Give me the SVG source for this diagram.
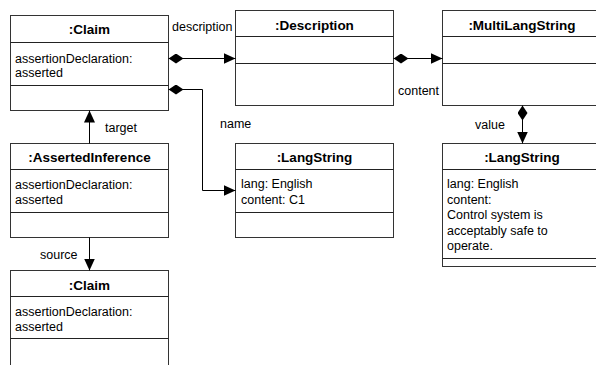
<svg xmlns="http://www.w3.org/2000/svg" width="596" height="365" viewBox="0 0 596 365">
<defs>
<style>
.box{fill:#fff;stroke:#333;stroke-width:1}
.sep{stroke:#222;stroke-width:1}
.title{font-family:"Liberation Sans",Arial,sans-serif;font-size:13.5px;font-weight:bold;fill:#000;text-anchor:middle}
.attr{font-family:"Liberation Sans",Arial,sans-serif;font-size:12.5px;fill:#000}
.lbl{font-family:"Liberation Sans",Arial,sans-serif;font-size:12.5px;fill:#000}
.conn{fill:none;stroke:#000;stroke-width:1}
</style>
<marker id="arrow" markerUnits="userSpaceOnUse" markerWidth="12" markerHeight="11" refX="12" refY="5.5" orient="auto">
<path d="M0,0 L12,5.5 L0,11 z" fill="#000"/>
</marker>
<marker id="diamond" markerUnits="userSpaceOnUse" markerWidth="15" markerHeight="10" refX="0" refY="5" orient="auto">
<path d="M0,5 L7.5,0 L15,5 L7.5,10 z" fill="#000"/>
</marker>
</defs>
<rect width="596" height="365" fill="#fff"/>

<g id="claim1">
<rect class="box" x="10.5" y="15.5" width="158" height="95"/>
<line class="sep" x1="10.5" y1="42.5" x2="168.5" y2="42.5"/>
<line class="sep" x1="10.5" y1="85.5" x2="168.5" y2="85.5"/>
<text class="title" x="89.5" y="34">:Claim</text>
<text class="attr" x="15" y="63">assertionDeclaration:</text>
<text class="attr" x="15" y="77">asserted</text>
</g>

<g id="description">
<rect class="box" x="235.5" y="10.5" width="158" height="95"/>
<line class="sep" x1="235.5" y1="36.5" x2="393.5" y2="36.5"/>
<line class="sep" x1="235.5" y1="63.5" x2="393.5" y2="63.5"/>
<text class="title" x="314.5" y="30">:Description</text>
</g>

<g id="multilangstring">
<rect class="box" x="442.5" y="10.5" width="159" height="95"/>
<line class="sep" x1="442.5" y1="36.5" x2="601.5" y2="36.5"/>
<line class="sep" x1="442.5" y1="63.5" x2="601.5" y2="63.5"/>
<text class="title" x="522" y="30">:MultiLangString</text>
</g>

<g id="assertedinference">
<rect class="box" x="10.5" y="143.5" width="158" height="94"/>
<line class="sep" x1="10.5" y1="169.5" x2="168.5" y2="169.5"/>
<line class="sep" x1="10.5" y1="212.5" x2="168.5" y2="212.5"/>
<text class="title" x="89.5" y="162">:AssertedInference</text>
<text class="attr" x="15" y="189">assertionDeclaration:</text>
<text class="attr" x="15" y="204">asserted</text>
</g>

<g id="langstring1">
<rect class="box" x="235.5" y="143.5" width="158" height="94"/>
<line class="sep" x1="235.5" y1="169.5" x2="393.5" y2="169.5"/>
<line class="sep" x1="235.5" y1="212.5" x2="393.5" y2="212.5"/>
<text class="title" x="314.5" y="162">:LangString</text>
<text class="attr" x="241" y="188">lang: English</text>
<text class="attr" x="241" y="204">content: C1</text>
</g>

<g id="langstring2">
<rect class="box" x="442.5" y="143.5" width="159" height="123"/>
<line class="sep" x1="442.5" y1="169.5" x2="601.5" y2="169.5"/>
<line class="sep" x1="442.5" y1="258.5" x2="601.5" y2="258.5"/>
<text class="title" x="522" y="162">:LangString</text>
<text class="attr" x="447" y="188">lang: English</text>
<text class="attr" x="447" y="203.5">content:</text>
<text class="attr" x="447" y="219">Control system is</text>
<text class="attr" x="447" y="234.5">acceptably safe to</text>
<text class="attr" x="447" y="250">operate.</text>
</g>

<g id="claim2">
<rect class="box" x="10.5" y="270.5" width="158" height="96"/>
<line class="sep" x1="10.5" y1="296.5" x2="168.5" y2="296.5"/>
<line class="sep" x1="10.5" y1="338.5" x2="168.5" y2="338.5"/>
<text class="title" x="89.5" y="290">:Claim</text>
<text class="attr" x="15" y="316">assertionDeclaration:</text>
<text class="attr" x="15" y="331">asserted</text>
</g>

<g id="connectors">
<path class="conn" d="M168.5,58.5 L235.5,58.5" marker-start="url(#diamond)" marker-end="url(#arrow)"/>
<path class="conn" d="M168.5,89.5 L202.5,89.5 L202.5,190.5 L235.5,190.5" marker-start="url(#diamond)" marker-end="url(#arrow)"/>
<path class="conn" d="M393.5,58.5 L442.5,58.5" marker-start="url(#diamond)" marker-end="url(#arrow)"/>
<path class="conn" d="M522.5,105.5 L522.5,143.5" marker-start="url(#diamond)" marker-end="url(#arrow)"/>
<path class="conn" d="M89.5,143.5 L89.5,110.5" marker-end="url(#arrow)"/>
<path class="conn" d="M89.5,237.5 L89.5,270.5" marker-end="url(#arrow)"/>
<text class="lbl" x="172" y="31">description</text>
<text class="lbl" x="398" y="95">content</text>
<text class="lbl" x="220" y="128">name</text>
<text class="lbl" x="475" y="129">value</text>
<text class="lbl" x="105" y="132">target</text>
<text class="lbl" x="40" y="259">source</text>
</g>
</svg>
